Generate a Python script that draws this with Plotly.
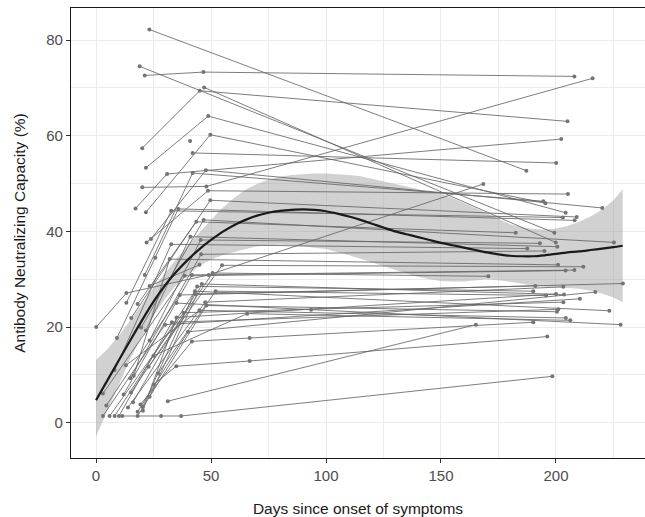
import plotly.graph_objects as go

# Long-format measurements: one row per visit
subject = [
    1, 1,
    2, 2,
    3, 3, 3,
    4, 4, 4,
    5, 5,
    6, 6, 6,
    7, 7, 7,
    8, 8, 8,
    9, 9,
    10, 10, 10,
    11,
    12, 12, 12, 12,
    13, 13, 13,
    14, 14, 14,
    15, 15, 15,
    16, 16, 16,
    17, 17, 17,
    18, 18, 18,
    19, 19, 19,
    20, 20, 20,
    21, 21, 21,
    22, 22, 22,
    23, 23, 23,
    24, 24, 24,
    25, 25, 25,
    26, 26, 26,
    27, 27, 27,
    28, 28, 28,
    29, 29, 29,
    30, 30, 30,
    31, 31, 31,
    32, 32, 32,
    33, 33, 33,
    34, 34, 34, 34,
    35, 35, 35,
    36, 36, 36,
    37, 37, 37,
    38, 38, 38,
    39, 39, 39,
    40, 40, 40,
    41, 41, 41,
    42, 42, 42,
    43, 43, 43, 43,
    44, 44, 44,
    45, 45, 45,
    46, 46, 46,
    47, 47, 47,
    48, 48,
    49, 49, 49, 49,
    50, 50,
    51,
]

day = [
    23.2, 187.1,
    19.0, 199.3,
    21.2, 46.7, 208.0,
    20.1, 45.1, 205.0,
    47.0, 199.9,
    20.1, 48.0, 215.9,
    17.2, 30.9, 202.3,
    21.7, 48.8, 204.2,
    42.0, 200.1,
    21.7, 49.7, 195.4,
    40.9,
    0.1, 13.2, 49.0, 168.4,
    23.9, 47.8, 220.1,
    22.0, 48.7, 205.2,
    21.2, 42.0, 194.5,
    15.3, 49.7, 209.0,
    9.1, 35.8, 208.1,
    13.2, 32.7, 203.0,
    18.1, 43.6, 182.5,
    19.6, 46.8, 225.2,
    21.7, 41.0, 200.6,
    23.3, 45.5, 193.0,
    8.1, 32.7, 187.5,
    14.9, 45.7, 195.0,
    16.4, 32.0, 200.9,
    22.9, 54.8, 211.9,
    3.0, 38.6, 204.2,
    12.0, 41.7, 208.0,
    15.2, 50.7, 170.6,
    4.5, 36.4, 229.1,
    13.9, 47.5, 203.2,
    16.1, 43.2, 191.0,
    18.1, 40.0, 217.1,
    19.3, 41.7, 66.8, 190.1,
    20.3, 44.0, 190.1,
    20.4, 35.0, 200.0,
    23.3, 46.0, 203.5,
    27.0, 52.0, 195.7,
    3.0, 30.0, 210.4,
    5.9, 38.0, 203.2,
    8.1, 43.0, 223.2,
    10.0, 33.0, 201.0,
    11.4, 28.3, 37.0, 198.4,
    18.1, 48.0, 200.4,
    13.0, 45.0, 204.3,
    25.0, 65.7, 206.2,
    35.0, 93.5, 228.1,
    31.2, 165.2,
    25.0, 34.9, 66.8, 196.2,
    23.3, 45.0,
    25.8,
]

nab = [
    82.2, 52.7,
    74.5, 39.7,
    72.6, 73.3, 72.4,
    57.4, 69.4, 63.0,
    70.1, 37.7,
    49.2, 49.4, 72.0,
    44.8, 52.0, 59.3,
    53.3, 64.1, 43.9,
    56.4, 54.3,
    44.0, 60.2, 45.9,
    58.9,
    20.0, 27.1, 30.9, 49.9,
    38.4, 52.8, 44.9,
    37.7, 48.5, 47.8,
    30.9, 52.2, 46.3,
    21.9, 46.5, 43.0,
    17.7, 44.7, 42.3,
    25.1, 44.3, 42.9,
    24.8, 42.0, 39.7,
    19.9, 42.4, 37.7,
    19.3, 38.9, 36.8,
    17.2, 38.2, 37.5,
    11.0, 37.3, 36.4,
    9.3, 35.2, 35.9,
    9.8, 34.2, 33.0,
    11.7, 32.9, 32.6,
    6.1, 30.7, 31.8,
    5.9, 30.9, 31.9,
    6.3, 31.3, 30.6,
    3.6, 26.7, 29.1,
    3.2, 25.2, 28.4,
    4.3, 26.9, 28.6,
    2.3, 19.0, 27.3,
    3.8, 17.0, 17.7, 21.0,
    3.3, 28.5, 27.5,
    2.5, 22.0, 26.9,
    5.4, 29.0, 26.8,
    10.3, 27.5, 26.6,
    1.4, 20.5, 25.9,
    1.4, 23.0, 25.2,
    1.4, 27.5, 23.4,
    1.4, 21.0, 23.7,
    1.4, 1.4, 1.4, 9.7,
    1.4, 24.5, 23.2,
    12.0, 23.5, 21.9,
    14.0, 22.8, 21.4,
    25.0, 23.6, 20.5,
    4.5, 20.5,
    8.0, 11.8, 12.9, 18.0,
    28.6, 33.0,
    34.5,
]

# Smoothed trend with its confidence band (5-day grid)
fit_day = [0, 5, 10, 15, 20, 25, 30, 35, 40, 45, 50, 55, 60, 65, 70, 75,
           80, 85, 90, 95, 100, 105, 110, 115, 120, 125, 130, 135, 140,
           145, 150, 155, 160, 165, 170, 175, 180, 185, 190, 195, 200,
           205, 210, 215, 220, 225, 229]
fit_mean = [4.7, 8.9, 13.1, 17.3, 21.4, 25.3, 28.7, 31.6, 34.1, 36.3, 38.2,
            39.9, 41.3, 42.4, 43.3, 43.9, 44.3, 44.5, 44.6, 44.5, 44.2,
            43.7, 43.1, 42.4, 41.6, 40.8, 40.0, 39.4, 38.8, 38.2, 37.6,
            37.1, 36.6, 36.1, 35.6, 35.2, 34.9, 34.8, 34.8, 35.0, 35.3,
            35.6, 35.8, 36.1, 36.4, 36.7, 37.0]
fit_upper = [13.1, 15.4, 18.2, 21.4, 24.8, 28.2, 31.3, 34.3, 37.1, 39.8,
             42.4, 44.9, 47.0, 48.7, 49.9, 50.8, 51.4, 51.8, 52.0, 52.1,
             52.1, 52.0, 51.8, 51.5, 51.0, 50.5, 49.9, 49.4, 48.8, 48.3,
             47.8, 47.0, 46.0, 44.9, 43.8, 42.6, 41.5, 40.9, 40.5, 40.4,
             40.6, 41.1, 42.0, 43.1, 44.5, 46.5, 48.8]
fit_lower = [-2.9, 2.5, 8.0, 13.4, 18.1, 22.3, 25.9, 28.8, 31.0, 32.8, 34.1,
             35.0, 35.6, 36.3, 36.9, 37.1, 37.2, 37.1, 36.9, 36.6, 36.3,
             35.7, 35.0, 34.3, 33.5, 32.8, 32.0, 31.2, 30.5, 30.0, 29.6,
             29.5, 29.5, 29.8, 30.0, 29.8, 29.5, 29.1, 28.6, 28.4, 28.3,
             28.2, 28.0, 27.6, 27.0, 26.2, 25.2]

x_ticks = [0, 50, 100, 150, 200]
x_minor = [25, 75, 125, 175, 225]
y_ticks = [0, 20, 40, 60, 80]
y_minor = [10, 30, 50, 70]

# Join each subject's visits into one polyline, separated by gaps
line_x, line_y = [], []
prev = None
for s, d, v in zip(subject, day, nab):
    if prev is not None and s != prev:
        line_x.append(None)
        line_y.append(None)
    line_x.append(d)
    line_y.append(v)
    prev = s

fig = go.Figure()

fig.add_trace(go.Scatter(
    x=fit_day + fit_day[::-1],
    y=fit_upper + fit_lower[::-1],
    fill="toself", fillcolor="rgba(153,153,153,0.45)",
    line=dict(width=0), mode="lines", hoverinfo="skip", showlegend=False,
))

fig.add_trace(go.Scatter(
    x=line_x, y=line_y, mode="lines",
    line=dict(color="#666666", width=0.85),
    connectgaps=False, showlegend=False,
))

fig.add_trace(go.Scatter(
    x=day, y=nab, mode="markers",
    marker=dict(color="#747474", size=4, line=dict(width=0)),
    showlegend=False,
))

fig.add_trace(go.Scatter(
    x=fit_day, y=fit_mean, mode="lines", line_shape="spline",
    line=dict(color="#1a1a1a", width=2.2, smoothing=0.6), showlegend=False,
))

font_family = "Liberation Sans, Arial, sans-serif"

fig.update_layout(
    width=645, height=517,
    margin=dict(l=71, r=0, t=8, b=59),
    paper_bgcolor="white", plot_bgcolor="white",
    font=dict(family=font_family, size=15, color="#1a1a1a"),
    showlegend=False,
)

fig.update_xaxes(
    range=[-10.87, 238.7],
    tickvals=x_ticks, ticktext=[str(v) for v in x_ticks],
    ticks="outside", ticklen=4, tickwidth=1, tickcolor="#333333",
    tickfont=dict(size=15, color="#4d4d4d"),
    showgrid=True, gridcolor="#ebebeb", gridwidth=1.2,
    minor=dict(tickvals=x_minor, showgrid=True, gridcolor="#ebebeb",
               gridwidth=0.6, ticks=""),
    zeroline=False, showline=True, linecolor="#1a1a1a", linewidth=1.2,
    mirror=True,
    title=dict(text="Days since onset of symptoms",
               font=dict(size=15.5, color="#1a1a1a"), standoff=20),
)

fig.update_yaxes(
    range=[-7.38, 86.7],
    tickvals=y_ticks, ticktext=[str(v) for v in y_ticks],
    ticks="outside", ticklen=4, tickwidth=1, tickcolor="#333333",
    tickfont=dict(size=15, color="#4d4d4d"),
    showgrid=True, gridcolor="#ebebeb", gridwidth=1.2,
    minor=dict(tickvals=y_minor, showgrid=True, gridcolor="#ebebeb",
               gridwidth=0.6, ticks=""),
    zeroline=False, showline=True, linecolor="#1a1a1a", linewidth=1.2,
    mirror=False,
    title=dict(text="Antibody Neutralizing Capacity (%)",
               font=dict(size=15.5, color="#1a1a1a"), standoff=16),
)

fig.write_html("out.html")
